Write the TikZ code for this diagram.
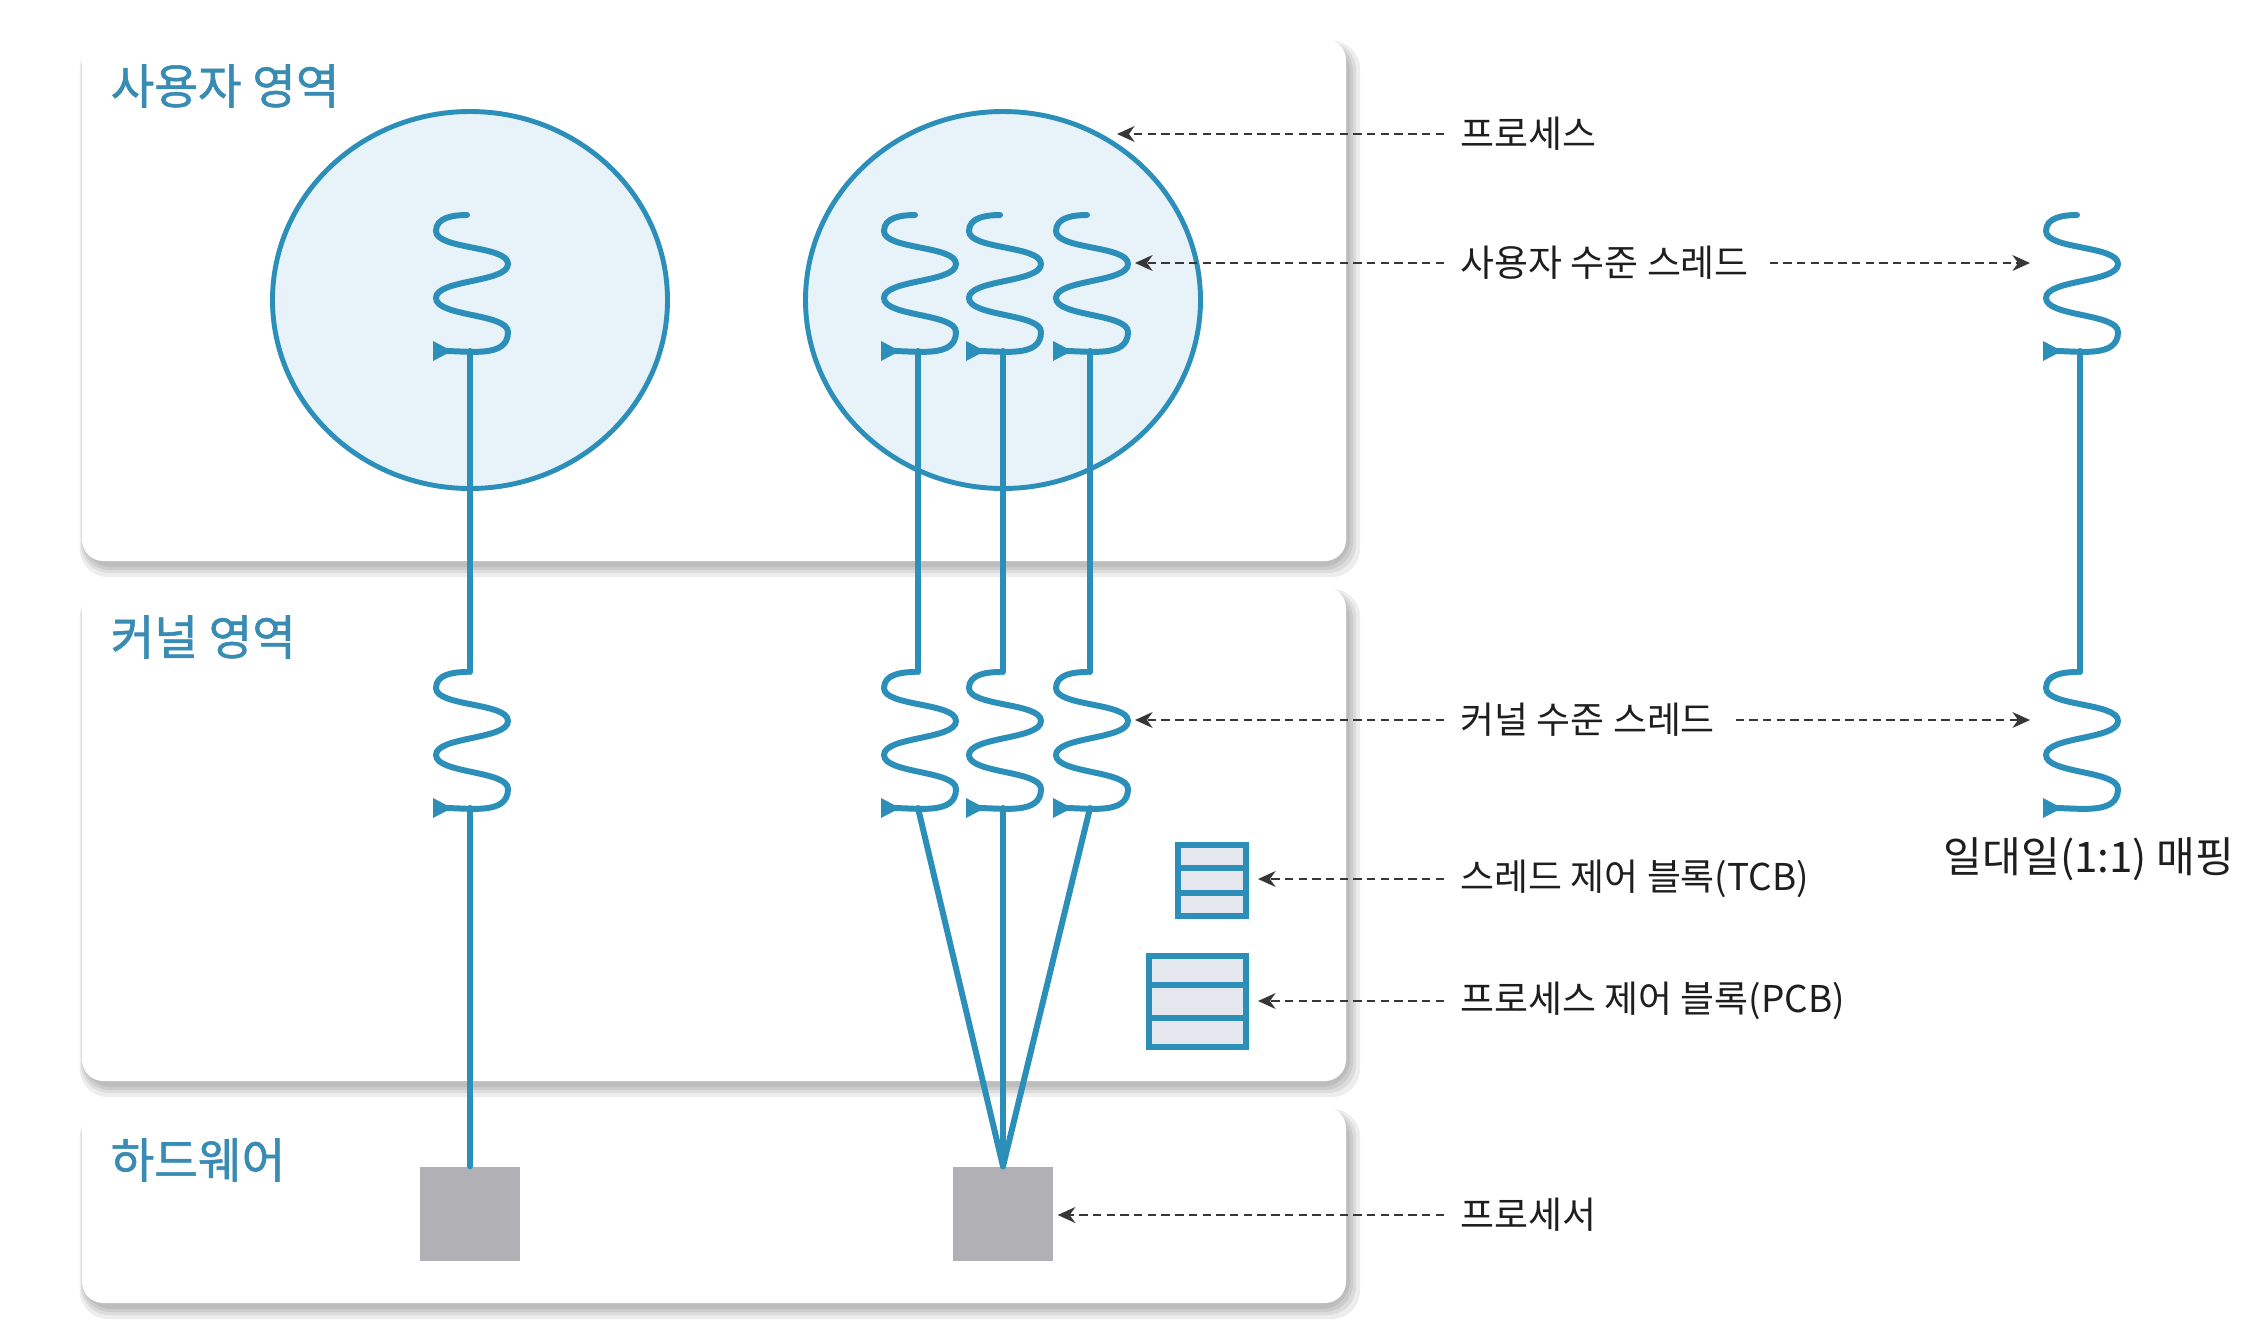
\documentclass[tikz,border=0pt]{standalone}
\usepackage{fontspec}
\setmainfont{Noto Sans CJK KR}
\newfontfamily\areafont[FakeBold=1.2]{Noto Sans CJK KR}
\usepackage{tikz}
\usetikzlibrary{
  arrows.meta,
  positioning,
  shapes.geometric,
  calc
}
\usepackage{xcolor}
\definecolor{thrblue}{RGB}{44,143,186}
\definecolor{areablue}{RGB}{56,140,180}
\definecolor{procfill}{RGB}{231,242,249}
\definecolor{cpugray}{RGB}{177,177,181}
\definecolor{cbfill}{RGB}{228,232,238}
\definecolor{ptrgray}{RGB}{55,55,55}
\definecolor{lblgray}{RGB}{30,30,30}

\begin{document}
\begin{tikzpicture}[
  area/.style={anchor=west, inner sep=0, text=areablue, font=\areafont\fontsize{13.5}{16}\selectfont},
  lbl/.style={anchor=west, inner sep=0, text=lblgray, font=\fontsize{10.5}{12}\selectfont},
  proc/.style={ellipse, draw=thrblue, line width=1.4pt, fill=procfill, inner sep=0,
    minimum width=3.95cm, minimum height=3.77cm},
  thr/.style={draw=thrblue, line width=1.7pt, line cap=round},
  cpu/.style={fill=cpugray, inner sep=0, minimum width=1cm, minimum height=0.94cm},
  cb/.style={draw=thrblue, fill=cbfill, line width=1.7pt, inner sep=0},
  ptr/.style={draw=ptrgray, line width=0.6pt, dash pattern=on 2.4pt off 1.5pt,
    -{Stealth[length=5pt, width=4.5pt, inset=1.6pt]}},
  wave/.style={out=-90, in=90, looseness=0.6},
  thread/.pic={
    \coordinate (-top) at (0,0);
    \coordinate (-bot) at (0,-1.36);
    \coordinate (-r) at (0.45,-0.48);
    \coordinate (-l) at (-0.50,-0.48);
    \draw[thr] (-0.03,0) to[out=180,in=90] (-0.34,-0.16)
      to[wave] (0.38,-0.49) to[wave] (-0.34,-0.83) to[wave] (0.38,-1.17)
      to[out=-90,in=0] (-0.26,-1.36);
    \fill[thrblue] (-0.37,-1.26) -- (-0.37,-1.46) -- (-0.18,-1.36) -- cycle;
  }
]
  \fill[white] (0,0) rectangle (22.46,-13.22);
  \useasboundingbox (0,0) rectangle (22.46,-13.22);

  % Panels
  \foreach \t/\b in {0.39/5.61, 5.87/10.81, 11.07/13.03} {
    \foreach \d in {0.13,0.09,0.06,0.03}
      \fill[black, opacity=0.07, rounded corners=8pt]
        (0.84-\d/3, -\t-0.05+\d/4) rectangle (13.47+\d, -\b-0.03-\d);
    \fill[white, rounded corners=6pt] (0.82,-\t) rectangle (13.46,-\b);
  }
  \node[area] (userArea) at (1.10,-0.86) {사용자 영역};
  \node[area] (kernArea) at (1.10,-6.37) {커널 영역};
  \node[area] (hwArea) at (1.10,-11.60) {하드웨어};

  % Processes
  \node[proc] (procL) at (4.70,-3.00) {};
  \node[proc] (procR) at (10.03,-3.00) {};

  % Processors
  \node[cpu] (cpuL) at (4.70,-12.14) {};
  \node[cpu] (cpuR) at (10.03,-12.14) {};

  % Threads
  \pic (uL) at (4.70,-2.15) {thread};
  \pic (kL) at (4.70,-6.72) {thread};
  \foreach \i/\x in {1/9.18, 2/10.03, 3/10.90} {
    \pic (u\i) at (\x,-2.15) {thread};
    \pic (k\i) at (\x,-6.72) {thread};
  }
  \pic (m1) at (20.80,-2.15) {thread};
  \pic (m2) at (20.80,-6.72) {thread};

  \draw[thr] (uL-bot) -- (kL-top);
  \draw[thr] (kL-bot) -- (cpuL.north);
  \foreach \i in {1,2,3} {
    \draw[thr] (u\i-bot) -- (k\i-top);
    \draw[thr] (k\i-bot) -- (cpuR.north);
  }
  \draw[thr] (m1-bot) -- (m2-top);

  % Control blocks
  \node[cb, minimum width=0.68cm, minimum height=0.71cm] (tcb) at (12.12,-8.805) {};
  \node[cb, minimum width=0.97cm, minimum height=0.91cm] (pcb) at (11.975,-10.015) {};
  \foreach \n in {tcb,pcb}
    \foreach \f in {1,2}
      \draw[thr, line cap=butt] ($(\n.north west)!\f/3!(\n.south west)$) -- ($(\n.north east)!\f/3!(\n.south east)$);

  % Labels
  \node[lbl] (lProc) at (14.60,-1.34) {프로세스};
  \node[lbl] (lUser) at (14.60,-2.63) {사용자 수준 스레드};
  \node[lbl] (lKern) at (14.60,-7.20) {커널 수준 스레드};
  \node[lbl] (lTcb) at (14.60,-8.79) {스레드 제어 블록(TCB)};
  \node[lbl] (lPcb) at (14.60,-10.01) {프로세스 제어 블록(PCB)};
  \node[lbl] (lCpu) at (14.60,-12.15) {프로세서};
  \node[font=\fontsize{12}{14}\selectfont, text=lblgray] (lMap) at (20.89,-8.59) {일대일(1:1) 매핑};

  \coordinate (procTip) at (11.17,-1.34);
  \draw[ptr] ([xshift=-0.16cm]lProc.west) -- (procTip);
  \draw[ptr] ([xshift=-0.16cm]lUser.west) -- (lUser.west -| u3-r);
  \draw[ptr] ([xshift=0.2cm]lUser.east) -- (lUser.east -| m1-l);
  \draw[ptr] ([xshift=-0.16cm]lKern.west) -- (lKern.west -| k3-r);
  \draw[ptr] ([xshift=0.2cm]lKern.east) -- (lKern.east -| m2-l);
  \draw[ptr] ([xshift=-0.16cm]lTcb.west) -- ([xshift=0.09cm]lTcb.west -| tcb.east);
  \draw[ptr] ([xshift=-0.16cm]lPcb.west) -- ([xshift=0.09cm]lPcb.west -| pcb.east);
  \draw[ptr] ([xshift=-0.16cm]lCpu.west) -- ([xshift=0.04cm]lCpu.west -| cpuR.east);
\end{tikzpicture}
\end{document}
